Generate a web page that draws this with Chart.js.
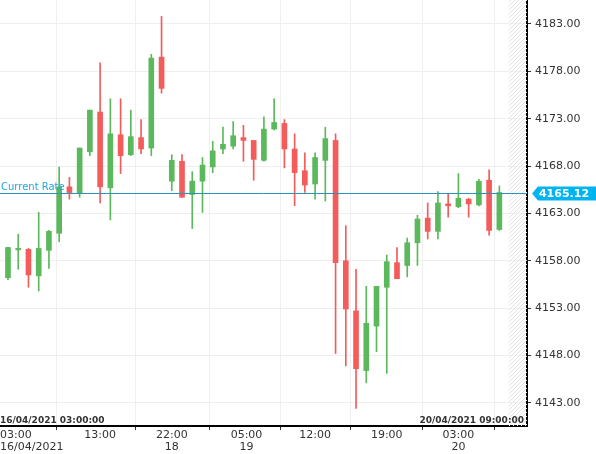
<!DOCTYPE html>
<html><head><meta charset="utf-8">
<script src="https://cdn.jsdelivr.net/npm/chart.js@4.4.0/dist/chart.umd.min.js"></script>
<style>html,body{margin:0;padding:0;background:#fff}#c{display:block}</style>
</head><body>
<div style="width:596px;height:454px"><canvas id="c"></canvas></div>
<script>
const opens  = [4156.2,4159.3,4159.2,4156.4,4159.1,4160.9,4165.8,4165.1,4169.5,4173.7,4165.7,4171.3,4169.2,4171.0,4169.9,4179.5,4166.4,4168.5,4165.0,4166.4,4167.9,4169.8,4170.1,4171.0,4170.7,4168.6,4171.9,4172.5,4169.8,4167.5,4166.1,4168.6,4170.7,4158.0,4152.7,4146.4,4151.1,4155.2,4157.8,4157.5,4159.9,4162.5,4161.1,4164.0,4163.7,4164.5,4163.9,4166.5,4161.3];
const highs  = [4159.4,4160.8,4159.3,4163.1,4161.2,4167.9,4166.8,4169.9,4173.9,4178.9,4175.1,4175.1,4173.9,4172.9,4179.8,4183.8,4169.2,4169.2,4167.4,4168.9,4170.6,4172.1,4172.7,4172.3,4170.7,4173.2,4175.1,4172.9,4171.4,4169.4,4169.4,4172.1,4171.4,4161.7,4157.1,4155.3,4155.3,4158.6,4159.4,4160.4,4162.8,4164.1,4165.3,4165.1,4167.2,4164.6,4166.6,4167.6,4165.9];
const lows   = [4156.0,4157.1,4155.2,4154.8,4157.2,4160.0,4164.5,4164.7,4169.1,4164.1,4162.3,4167.2,4169.1,4169.3,4169.1,4175.7,4165.4,4164.7,4161.4,4163.1,4167.3,4169.3,4169.8,4168.5,4166.5,4168.5,4171.8,4167.8,4163.8,4165.2,4164.5,4164.3,4148.2,4146.9,4142.4,4145.1,4148.4,4146.1,4156.1,4156.3,4157.5,4160.3,4160.3,4162.6,4163.6,4162.6,4163.8,4160.7,4161.2];
const closes = [4159.4,4159.4,4156.5,4159.3,4161.1,4165.8,4165.2,4169.9,4173.9,4165.8,4171.4,4169.1,4171.1,4169.8,4179.4,4176.2,4168.6,4164.7,4166.4,4168.1,4169.6,4170.3,4171.2,4170.7,4168.7,4171.9,4172.6,4169.8,4167.3,4166.0,4168.9,4170.9,4157.8,4152.9,4146.6,4151.4,4155.3,4157.9,4156.1,4159.9,4162.4,4161.1,4164.1,4163.8,4164.6,4164.0,4166.4,4161.2,4165.2];
const xTickPos    = [0.5, 9, 16, 23.3, 30, 37, 44];
const xTickLabels = [["03:00","16/04/2021"],["13:00"],["22:00","18"],["05:00","19"],["12:00"],["19:00"],["03:00","20"]];
const yTicks = [4143,4148,4153,4158,4163,4168,4173,4178,4183];
const currentRate = 4165.12;
const startLabel = "16/04/2021 03:00:00";
const endLabel = "20/04/2021 09:00:00";

const GREEN = '#5cb85c', RED = '#f45b5b';
const colors = opens.map((o,i)=> closes[i] >= o ? GREEN : RED);
const bodies = opens.map((o,i)=>{ let a=o,b=closes[i]; if(Math.abs(a-b)<0.15){b=a-0.15;} return {x:i,y:[a,b]}; });
const wicks = opens.map((o,i)=>({x:i,y:[lows[i],highs[i]]}));
const FONT = '"DejaVu Sans", sans-serif';

const overlay = {
  id:'overlay',
  beforeDatasetsDraw(chart){
    const {ctx, chartArea:a, scales:{x}} = chart;
    const hx = x.getPixelForValue(48.9);
    ctx.save();
    ctx.beginPath(); ctx.rect(hx, a.top, a.right-hx, a.bottom-a.top); ctx.clip();
    ctx.strokeStyle='#e4e4e4'; ctx.lineWidth=1;
    for(let yy=a.top-40; yy<a.bottom+40; yy+=4){ ctx.beginPath(); ctx.moveTo(hx,yy+(a.right-hx)); ctx.lineTo(a.right,yy); ctx.stroke(); }
    ctx.restore();
  },
  afterDraw(chart){
    const {ctx, chartArea:a, scales:{x,y}} = chart;
    ctx.save();
    ctx.fillStyle='#333'; ctx.font='11px '+FONT;
    ctx.textAlign='left'; ctx.textBaseline='middle';
    yTicks.forEach(v=>{ ctx.fillText(v.toFixed(2), a.right+8, y.getPixelForValue(v)); });
    ctx.textAlign='center'; ctx.textBaseline='top';
    xTickPos.forEach((v,i)=>{
      const px = x.getPixelForValue(v);
      xTickLabels[i].forEach((t,j)=>{
        const w = ctx.measureText(t).width;
        let cx = Math.max(px, w/2);
        ctx.fillText(t, cx, a.bottom+4+j*12);
      });
    });
    const py = Math.round(y.getPixelForValue(currentRate))+0.5;
    ctx.strokeStyle='#2a93b8'; ctx.lineWidth=1;
    ctx.beginPath(); ctx.moveTo(a.left,py); ctx.lineTo(a.right,py); ctx.stroke();
    ctx.font='10px '+FONT; ctx.fillStyle='#20a8e0'; ctx.textBaseline='bottom'; ctx.textAlign='left';
    ctx.fillText('Current Rate', 1, py-1);
    ctx.fillStyle='#00b4f0';
    ctx.beginPath(); ctx.moveTo(a.right+5,py); ctx.lineTo(a.right+11,py-7); ctx.lineTo(596,py-7); ctx.lineTo(596,py+7); ctx.lineTo(a.right+11,py+7); ctx.closePath(); ctx.fill();
    ctx.fillStyle='#fff'; ctx.font='bold 11px '+FONT; ctx.textBaseline='middle'; ctx.textAlign='center';
    ctx.fillText(currentRate.toFixed(2), 564, py+0.5);
    ctx.fillStyle='#333'; ctx.font='bold 9px '+FONT; ctx.textBaseline='bottom';
    ctx.textAlign='left'; ctx.fillText(startLabel, 0, a.bottom-1);
    ctx.textAlign='right'; ctx.fillText(endLabel, a.right-3, a.bottom-1);
    ctx.restore();
  }
};

new Chart(document.getElementById('c'), {
  type:'bar',
  data:{ datasets:[
    {data:wicks, backgroundColor:colors, barThickness:1, grouped:false, order:2},
    {data:bodies, backgroundColor:colors, barThickness:5, grouped:false, order:1}
  ]},
  options:{
    responsive:true, maintainAspectRatio:false, animation:false, devicePixelRatio:1,
    layout:{padding:0},
    plugins:{legend:{display:false}, tooltip:{enabled:false}},
    scales:{
      x:{type:'linear', min:-0.78, max:50.7, offset:false,
        afterBuildTicks(s){ s.ticks = xTickPos.map(v=>({value:v})); },
        afterFit(s){ s.height = 28; },
        ticks:{display:false},
        grid:{color:'#efefef', tickLength:4, tickColor:'#333'},
        border:{color:'#000', width:2}
      },
      y:{position:'right', min:4140.55, max:4185.53,
        afterBuildTicks(s){ s.ticks = yTicks.map(v=>({value:v})); },
        afterFit(s){ s.width = 69; },
        ticks:{display:false},
        grid:{color:'#efefef', tickLength:4, tickColor:'#333'},
        border:{color:'#000', width:2}
      }
    }
  },
  plugins:[overlay]
});
</script>
</body></html>
